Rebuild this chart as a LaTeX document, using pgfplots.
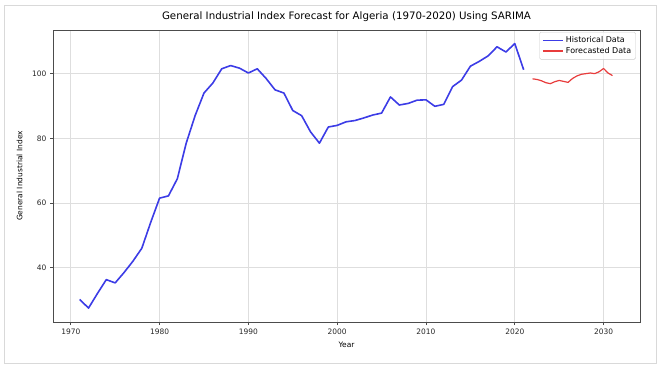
\documentclass[border=0pt]{standalone}
\usepackage{fontspec}
\setmainfont{DejaVu Sans}
\usepackage{pgfplots}
\pgfplotsset{compat=1.18}

\definecolor{histblue}{RGB}{60,60,230}
\definecolor{fcred}{RGB}{232,60,60}
\definecolor{gridgray}{RGB}{222,222,222}

\begin{document}
\begin{tikzpicture}
  % page = whole screenshot, axis box placed at its measured spot
  \useasboundingbox (-53bp,-43bp) rectangle (606bp,322bp);
  \draw[gray!30, line width=1bp] (-48bp,-41bp) rectangle (603bp,316bp);
  \begin{axis}[
    at={(0,0)}, anchor=south west,
    scale only axis,
    width=587bp, height=292bp,
    xmin=1968, xmax=2034.1,
    ymin=23.2, ymax=113.5,
    xtick={1970,1980,...,2030},
    ytick={40,60,80,100},
    xtick pos=left, ytick pos=left,
    xticklabel style={/pgf/number format/1000 sep={}},
    /pgf/number format/assume math mode=true,
    tick label style={font=\fontsize{7.5}{9}\selectfont, black!85},
    tick align=outside,
    major tick length=3bp,
    tick style={black!70, line width=0.6bp},
    axis line style={black!70, line width=0.7bp},
    grid=major,
    grid style={gridgray, line width=0.7bp},
    title={General Industrial Index Forecast for Algeria (1970-2020) Using SARIMA},
    title style={font=\fontsize{10.3}{12}\selectfont, at={(0.5,1)}, anchor=base, yshift=5bp},
    xlabel={Year},
    ylabel={General Industrial Index},
    label style={font=\fontsize{7.5}{9}\selectfont},
    xlabel style={at={(axis description cs:0.5,0)}, anchor=center, yshift=-23bp},
    ylabel style={at={(axis description cs:-0.057,0.5)}, anchor=center},
    legend style={at={(0.993,0.993)}, anchor=north east,
      font=\fontsize{8}{9.5}\selectfont, draw=gray!40, rounded corners=1.5bp,
      fill=white, fill opacity=0.8, text opacity=1,
      row sep=-1bp, inner sep=2.5bp},
    legend cell align=left,
    legend image post style={xscale=1.2},
  ]
    \addplot[histblue, line width=1.6bp, line join=round] coordinates {
      (1971,30.2) (1972,27.5) (1973,32.0) (1974,36.3) (1975,35.3)
      (1976,38.5) (1977,42.0) (1978,46.0) (1979,54.0) (1980,61.5)
      (1981,62.2) (1982,67.5) (1983,78.5) (1984,87.0) (1985,94.0)
      (1986,97.1) (1987,101.5) (1988,102.5) (1989,101.7) (1990,100.2)
      (1991,101.5) (1992,98.5) (1993,95.0) (1994,94.0) (1995,88.6)
      (1996,87.0) (1997,82.0) (1998,78.5) (1999,83.5) (2000,84.0)
      (2001,85.1) (2002,85.5) (2003,86.3) (2004,87.2) (2005,87.8)
      (2006,92.8) (2007,90.3) (2008,90.8) (2009,91.8) (2010,91.9)
      (2011,89.9) (2012,90.5) (2013,96.0) (2014,98.0) (2015,102.3)
      (2016,103.8) (2017,105.5) (2018,108.3) (2019,106.7) (2020,109.3)
      (2021,101.2)
    };
    \addlegendentry{Historical Data}
    \addplot[fcred, line width=1.2bp, line join=round] coordinates {
      (2022,98.4) (2022.5,98.2) (2023,97.8) (2023.5,97.2) (2024,96.9)
      (2024.5,97.5) (2025,97.9) (2025.5,97.6) (2026,97.3) (2026.5,98.5)
      (2027,99.3) (2027.5,99.8) (2028,100.0) (2028.5,100.2) (2029,100.0)
      (2029.5,100.6) (2030,101.6) (2030.5,100.2) (2031,99.4)
    };
    \addlegendentry{Forecasted Data}
  \end{axis}
\end{tikzpicture}
\end{document}
